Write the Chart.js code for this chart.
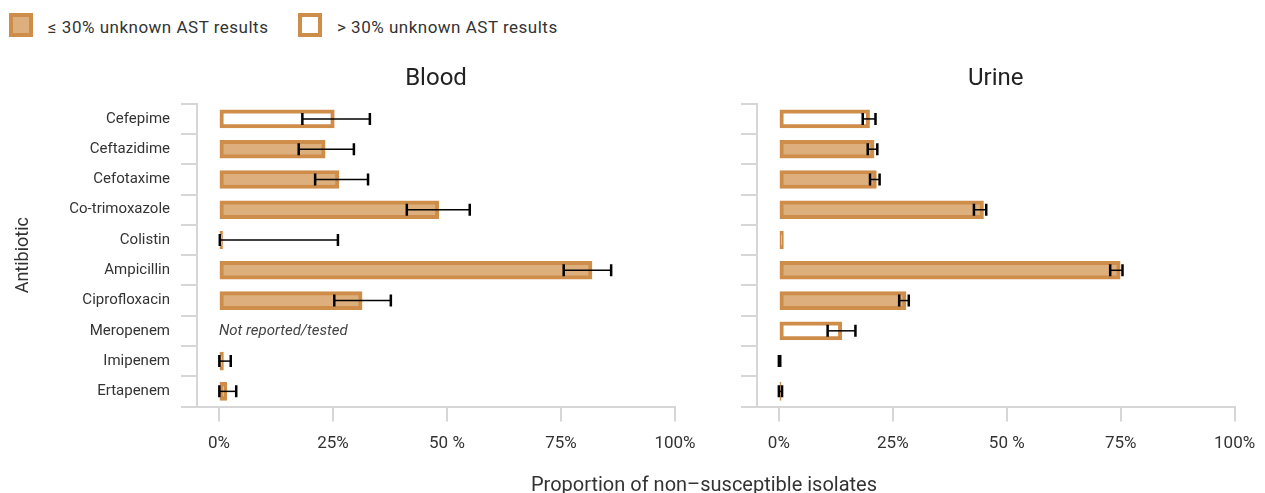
<!DOCTYPE html>
<html>
<head>
<meta charset="utf-8">
<script src="https://cdn.jsdelivr.net/npm/chart.js@4.4.1/dist/chart.umd.min.js"></script>
<style>
  body { margin: 0; background: #fff; font-family: Roboto, sans-serif; color: #333; }
  #wrap { position: relative; width: 1265px; height: 493px; overflow: hidden; }
  #blood { position: absolute; left: 0; top: 0; }
  #urine { position: absolute; left: 700px; top: 0; }
  .lg { position: absolute; top: 13px; height: 24px; font-size: 17px; letter-spacing: 0.5px; white-space: nowrap; }
  .sw { position: absolute; left: 0; top: 0; width: 24px; height: 24px; box-sizing: border-box; border: 4px solid #cf8d4a; background: #fff; }
  .sw.full { background: #ddaf7d; }
  .lg span.t { position: absolute; left: 39px; top: 2px; line-height: 24px; }
  #xtitle { position: absolute; left: 404px; width: 600px; text-align: center; top: 472px; font-size: 20px; line-height: 24px; white-space: nowrap; }
</style>
</head>
<body>
<div id="wrap">
  <div class="lg" style="left:9px"><div class="sw full"></div><span class="t">≤ 30% unknown AST results</span></div>
  <div class="lg" style="left:298px"><div class="sw"></div><span class="t">&gt; 30% unknown AST results</span></div>
  <canvas id="blood" width="700" height="493"></canvas>
  <canvas id="urine" width="565" height="493"></canvas>
  <div id="xtitle">Proportion of non–susceptible isolates</div>
</div>
<script>
// datos
const antibiotics = ['Cefepime', 'Ceftazidime', 'Cefotaxime', 'Co-trimoxazole', 'Colistin', 'Ampicillin', 'Ciprofloxacin', 'Meropenem', 'Imipenem', 'Ertapenem'];

const bloodValues = [25.3, 23.3, 26.3, 48.2, 0.8, 81.8, 31.4, null, 1.0, 1.7];
const bloodLow    = [18.3, 17.5, 21.1, 41.2, 0.2, 75.6, 25.3, null, 0.1, 0.1];
const bloodHigh   = [33.1, 29.6, 32.7, 55.0, 26.1, 86.0, 37.7, null, 2.6, 3.8];
const bloodFilled = [false, true, true, true, true, true, true, true, true, true]; // true = <=30% unknown
const bloodNotes  = [null, null, null, null, null, null, null, 'Not reported/tested', null, null];

const urineValues = [19.9, 20.9, 21.4, 44.9, 1.0, 74.9, 27.9, 13.8, 0, 0.5];
const urineLow    = [18.4, 19.5, 20.0, 42.8, null, 72.7, 26.4, 10.7, 0, 0.0];
const urineHigh   = [21.2, 21.6, 22.1, 45.5, null, 75.4, 28.5, 16.8, 0.3, 0.7];
const urineFilled = [false, true, true, true, true, true, true, false, true, true];

const xTickValues = [0, 25, 50, 75, 100];
const xTickLabels = ['0%', '25%', '50 %', '75%', '100%'];

const EDGE = '#cf8d4a';
const FILL = '#ddaf7d';
const AXIS = '#d6d6d6';
const TEXT = '#333';
const FONT = 'Roboto, sans-serif';

// barras de error y notas
function errorBars(low, high, notes) {
    return {
        id: 'errorBars',
        afterDatasetsDraw(chart) {
            const ctx = chart.ctx;
            const x = chart.scales.x;
            const y = chart.scales.y;
            ctx.save();
            ctx.strokeStyle = '#000';
            for (let i = 0; i < low.length; i++) {
                if (low[i] == null || high[i] == null) continue;
                const yc = y.getPixelForValue(i);
                const x1 = x.getPixelForValue(low[i]);
                const x2 = x.getPixelForValue(high[i]);
                ctx.lineWidth = 1.5;
                ctx.beginPath();
                ctx.moveTo(x1, yc);
                ctx.lineTo(x2, yc);
                ctx.stroke();
                ctx.lineWidth = 2.5;
                ctx.beginPath();
                ctx.moveTo(x1, yc - 6);
                ctx.lineTo(x1, yc + 6);
                ctx.moveTo(x2, yc - 6);
                ctx.lineTo(x2, yc + 6);
                ctx.stroke();
            }
            if (notes) {
                ctx.fillStyle = '#444';
                ctx.font = 'italic 15px ' + FONT;
                ctx.textBaseline = 'middle';
                ctx.textAlign = 'left';
                notes.forEach(function(n, i) {
                    if (n) ctx.fillText(n, x.getPixelForValue(0), y.getPixelForValue(i));
                });
            }
            ctx.restore();
        }
    };
}

function makeChart(id, title, values, filled, low, high, notes, yWidth, padRight, showLabels) {
    return new Chart(document.getElementById(id), {
        type: 'bar',
        data: {
            labels: antibiotics,
            datasets: [{
                data: values,
                backgroundColor: filled.map(f => f ? FILL : '#fff'),
                borderColor: EDGE,
                borderWidth: 4,
                borderSkipped: false,
                barThickness: 18
            }]
        },
        options: {
            indexAxis: 'y',
            responsive: false,
            animation: false,
            layout: { padding: { top: 64.5, right: padRight, left: 0, bottom: 0 } },
            plugins: {
                legend: { display: false },
                tooltip: { enabled: false },
                title: {
                    display: true,
                    text: title,
                    fullSize: false,
                    color: '#222',
                    font: { family: FONT, size: 24, weight: 'normal' },
                    padding: { top: 0, bottom: 10.5 }
                }
            },
            scales: {
                x: {
                    type: 'linear',
                    min: -4.8,
                    max: 100,
                    afterBuildTicks: s => { s.ticks = xTickValues.map(v => ({ value: v })); },
                    afterFit: s => { s.height = 86.5; s.paddingLeft = 0; s.paddingRight = 0; },
                    ticks: {
                        color: TEXT,
                        font: { family: FONT, size: 17 },
                        padding: 12,
                        maxRotation: 0,
                        autoSkip: false,
                        callback: v => xTickLabels[xTickValues.indexOf(v)]
                    },
                    grid: { drawOnChartArea: false, tickLength: 15, color: AXIS, lineWidth: 2 },
                    border: { color: AXIS, width: 2 }
                },
                y: {
                    afterFit: s => { s.width = yWidth; },
                    ticks: {
                        display: showLabels,
                        color: TEXT,
                        font: { family: FONT, size: 15 },
                        padding: 11
                    },
                    grid: { offset: true, drawOnChartArea: false, tickLength: 16, color: AXIS, lineWidth: 2 },
                    border: { color: AXIS, width: 2 },
                    title: {
                        display: showLabels,
                        text: 'Antibiotic',
                        color: TEXT,
                        font: { family: FONT, size: 18 },
                        padding: { top: 13, bottom: 0 }
                    }
                }
            }
        },
        plugins: [errorBars(low, high, notes)]
    });
}

makeChart('blood', 'Blood', bloodValues, bloodFilled, bloodLow, bloodHigh, bloodNotes, 197, 25, true);
makeChart('urine', 'Urine', urineValues, urineFilled, urineLow, urineHigh, null, 57, 30.4, false);
</script>
</body>
</html>
